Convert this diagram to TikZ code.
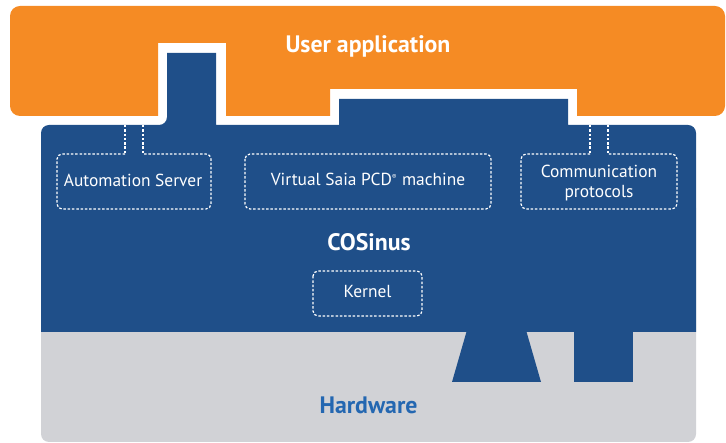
\documentclass[tikz,border=0pt]{standalone}
\usepackage{fontspec}
\setmainfont{PT Sans}
\definecolor{appor}{HTML}{F58B24}
\definecolor{cosblue}{HTML}{1F4F89}
\definecolor{hwgray}{HTML}{D1D2D6}
\definecolor{hwtext}{HTML}{2467B1}
\begin{document}
\begin{tikzpicture}[x=1pt,y=-1pt,
  title/.style={font=\bfseries\fontsize{23.8}{27}\selectfont, inner sep=0pt, anchor=base},
  small/.style={font=\fontsize{17.4}{20}\selectfont, text=white, inner sep=0pt, align=center, anchor=base},
  dashbox/.style={draw=white, line width=1.2pt, dash pattern=on 2.5pt off 1.8pt, rounded corners=5pt},
  dashline/.style={draw=white, line width=1.2pt, dash pattern=on 2.5pt off 1.8pt}]
\useasboundingbox (0,0) rectangle (726,443);
% hardware
\fill[hwgray, rounded corners=8pt] (41,200) rectangle (696,442);
% blue body
\fill[cosblue] (41,332) -- (41,133) [rounded corners=8pt] -- (41,125) -- (167,125) [sharp corners] -- (167,53) -- (216,53) -- (216,125) -- (339,125) -- (339,99) -- (568,99) -- (568,125) [rounded corners=8pt] -- (696,125) [sharp corners] -- (696,332) -- cycle;
\fill[cosblue] (41,332) rectangle (696,200);
% tabs into hardware
\fill[cosblue] (467,330) -- (526,330) -- (541,382) -- (452,382) -- cycle;
\fill[cosblue] (574,330) rectangle (633,382);
% orange user application
\fill[appor] (10,60) [rounded corners=10pt] -- (10,6) -- (725,6) -- (725,116) [sharp corners] -- (577,116) -- (577,89) -- (330,89) -- (330,116) -- (226,116) -- (226,43) -- (158,43) -- (158,116) [rounded corners=10pt] -- (10,116) [sharp corners] -- cycle;
% texts
\node[title, text=white] (app) at (368,53) {User application};
\node[title, text=white] (cos) at (369,251) {COSinus};
\node[title, text=hwtext] (hw) at (368.5,414) {Hardware};
% automation server
\node[small] (as) at (133,187) {Automation Server};
\coordinate (asa) at (125,125);
\coordinate (asb) at (143,125);
\draw[dashline] (asa) -- (125,154);
\draw[dashline] (asb) -- (143,154);
\draw[dashbox] (125,154) -- (57,154) -- (57,209) -- (211,209) -- (211,154) -- (143,154);
% virtual machine
\draw[dashbox] (245,154) rectangle (491,209);
\node[small] (vm) at (368,186) {Virtual Saia PCD\textsuperscript{\scriptsize ®} machine};
% communication protocols
\node[small] (cp) at (599,178) {Communication};
\node[small] (cp2) at (599,198) {protocols};
\coordinate (cpa) at (590,125);
\coordinate (cpb) at (608,125);
\draw[dashline] (cpa) -- (590,154);
\draw[dashline] (cpb) -- (608,154);
\draw[dashbox] (590,154) -- (521,154) -- (521,209) -- (677,209) -- (677,154) -- (608,154);
% kernel
\draw[dashbox] (313,271) rectangle (422,316);
\node[small] (kr) at (367.5,298) {Kernel};
\end{tikzpicture}
\end{document}
